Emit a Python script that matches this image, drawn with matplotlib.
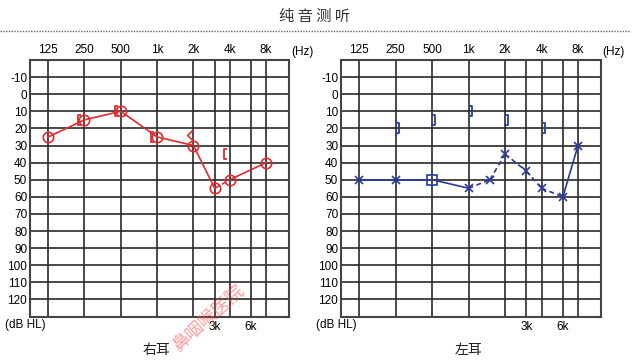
import matplotlib
matplotlib.use("Agg")
import matplotlib.pyplot as plt
import matplotlib.transforms as mtransforms
from matplotlib.lines import Line2D
from matplotlib.path import Path

plt.rcParams['font.family'] = ['Liberation Sans', 'Noto Sans CJK SC', 'DejaVu Sans']

# ---------------- data ----------------
title = "纯 音 测 听"
octave_freqs = [125, 250, 500, 1000, 2000, 4000, 8000]
octave_labels = ["125", "250", "500", "1k", "2k", "4k", "8k"]
inter_freqs = [3000, 6000]
inter_labels = ["3k", "6k"]
grid_freqs = [125, 250, 500, 1000, 2000, 3000, 4000, 6000, 8000]
db_ticks = list(range(-10, 130, 10))

# right ear (red)
right_ac_freq = [125, 250, 500, 1000, 2000, 3000, 4000, 8000]
right_ac_db = [25, 15, 10, 25, 30, 55, 50, 40]
right_ac_seg_style = ['-', '-', '-', '-', '-', '--', '-']
right_bc_freq = [250, 500, 1000, 4000]
right_bc_db = [15, 10, 25, 35]
right_bc2_freq = [2000]
right_bc2_db = [24]

# left ear (blue)
left_ac_freq = [125, 250, 500, 1000, 1500, 2000, 3000, 4000, 6000, 8000]
left_ac_db = [50, 50, 50, 55, 50, 35, 45, 55, 60, 30]
left_ac_marker = ['x', 'x', 's', 'x', 'x', 'x', 'x', 'x', 'x', 'x']
left_ac_seg_style = ['-', '-', '-', '--', '--', '--', '--', '--', '-']
left_bc_freq = [250, 500, 1000, 2000, 4000]
left_bc_db = [20, 15, 10, 15, 20]

RED = '#e32a2f'
BLUE = '#2a3a9c'
GRIDC = '#2a2a2a'

LBRACKET = Path([(0.35, 0.5), (0, 0.5), (0, -0.5), (0.35, -0.5)],
                [Path.MOVETO, Path.LINETO, Path.LINETO, Path.LINETO])
RBRACKET = Path([(-0.35, 0.5), (0, 0.5), (0, -0.5), (-0.35, -0.5)],
                [Path.MOVETO, Path.LINETO, Path.LINETO, Path.LINETO])
CHEVRON = Path([(0.25, 0.5), (-0.25, 0.0), (0.25, -0.5)],
               [Path.MOVETO, Path.LINETO, Path.LINETO])

fig = plt.figure(figsize=(6.36, 3.6), dpi=100)

fig.text(0.495, 1 - 16/360, title, ha='center', va='center', fontsize=11,
         family=['Noto Sans CJK SC', 'DejaVu Sans'], color='#333333')
fig.add_artist(Line2D([0.0, 0.99], [1 - 31/360, 1 - 31/360], transform=fig.transFigure,
                      color='#666666', lw=1.0, ls=(0, (1, 1))))


def setup(ax, ear_label, label_x):
    ax.set_xscale('log', base=2)
    ax.set_xlim(125 / 2**0.5, 8000 * 2**0.63)
    ax.set_ylim(130, -20)
    for f in grid_freqs:
        ax.axvline(f, color=GRIDC, lw=1.2, zorder=1)
    ax.set_yticks(db_ticks)
    ax.set_yticklabels([str(v) for v in db_ticks])
    ax.yaxis.grid(True, color=GRIDC, lw=1.2, zorder=1)
    ax.set_axisbelow(True)
    ax.tick_params(axis='y', length=0, pad=2, labelsize=8.5)
    ax.set_xticks(inter_freqs)
    ax.set_xticklabels(inter_labels)
    ax.xaxis.set_minor_locator(matplotlib.ticker.NullLocator())
    ax.tick_params(axis='x', length=0, pad=3.5, labelsize=8.5)
    for s in ax.spines.values():
        s.set_color('#444444')
        s.set_linewidth(1.5)
    ax2 = ax.twiny()
    ax2.set_xscale('log', base=2)
    ax2.set_xlim(ax.get_xlim())
    ax2.set_xticks(octave_freqs)
    ax2.set_xticklabels(octave_labels)
    ax2.xaxis.set_minor_locator(matplotlib.ticker.NullLocator())
    ax2.tick_params(axis='x', length=0, pad=3, labelsize=8.5)
    for s in ax2.spines.values():
        s.set_visible(False)
    ax.text(label_x, 1.031, "(Hz)", transform=ax.transAxes, ha='center', va='center', fontsize=8.5)
    ax.text(-0.019, -0.035, "(dB HL)", transform=ax.transAxes, ha='center', va='center', fontsize=8.5)
    ax.text(0.49, -0.13, ear_label, transform=ax.transAxes, ha='center', va='center',
            fontsize=10, family=['Noto Sans CJK SC', 'DejaVu Sans'], color='#222222')


axL = fig.add_axes([30/636, 1 - 316.5/360, 259/636, 256.5/360])
axR = fig.add_axes([341/636, 1 - 316.5/360, 260/636, 256.5/360])
setup(axL, "右耳", 1.05)
setup(axR, "左耳", 1.046)

# right ear
for i in range(len(right_ac_freq) - 1):
    st = right_ac_seg_style[i]
    axL.plot(right_ac_freq[i:i+2], right_ac_db[i:i+2], color=RED, lw=1.2,
             ls=st, dashes=(3, 2) if st == '--' else (None, None), zorder=3)
axL.plot(right_ac_freq, right_ac_db, ls='none', marker='o', ms=7.5, mfc='none',
         mec=RED, mew=1.2, zorder=4)
offL = mtransforms.offset_copy(axL.transData, fig=fig, x=-6, y=0, units='dots')
axL.plot(right_bc_freq, right_bc_db, ls='none', marker=LBRACKET, ms=7, mfc='none',
         mec=RED, mew=1.3, transform=offL, zorder=4)
offL2 = mtransforms.offset_copy(axL.transData, fig=fig, x=-3, y=0, units='dots')
axL.plot(right_bc2_freq, right_bc2_db, ls='none', marker=CHEVRON, ms=8, mfc='none',
         mec=RED, mew=1.2, transform=offL2, zorder=4)

# left ear
for i in range(len(left_ac_freq) - 1):
    st = left_ac_seg_style[i]
    axR.plot(left_ac_freq[i:i+2], left_ac_db[i:i+2], color=BLUE, lw=1.2,
             ls=st, dashes=(3, 2) if st == '--' else (None, None), zorder=3)
for f, d, m in zip(left_ac_freq, left_ac_db, left_ac_marker):
    if m == 'x':
        axR.plot([f], [d], ls='none', marker='x', ms=6, mew=1.2, color=BLUE, zorder=4)
    else:
        axR.plot([f], [d], ls='none', marker='s', ms=7, mfc='none', mew=1.2, mec=BLUE, zorder=4)
offR = mtransforms.offset_copy(axR.transData, fig=fig, x=3, y=0, units='dots')
axR.plot(left_bc_freq, left_bc_db, ls='none', marker=RBRACKET, ms=7, mfc='none',
         mec=BLUE, mew=1.3, transform=offR, zorder=4)

# watermark
fig.text(208/636, 1 - 318/360, "鼻咽喉医院", rotation=42, ha='center', va='center',
         fontsize=13, color='#ff4a4a', alpha=0.55, family=['Noto Sans CJK SC', 'DejaVu Sans'])

fig.savefig("out.png", dpi=100)
